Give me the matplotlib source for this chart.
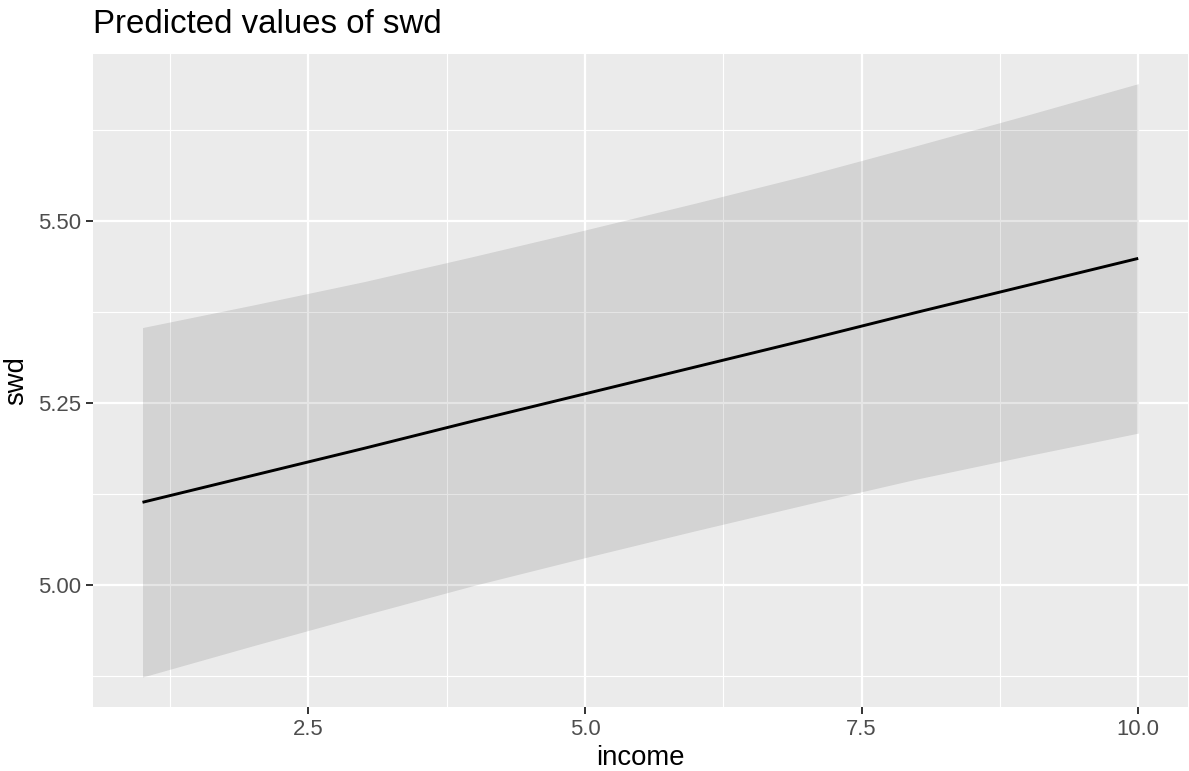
import matplotlib
matplotlib.use("Agg")
import matplotlib.pyplot as plt

# ---- data ----
income = [1, 2, 3, 4, 5, 6, 7, 8, 9, 10]
predicted = [5.114, 5.151, 5.188, 5.226, 5.263, 5.300, 5.337, 5.375, 5.412, 5.449]
conf_low = [4.874, 4.917, 4.959, 5.000, 5.038, 5.075, 5.111, 5.146, 5.178, 5.209]
conf_high = [5.354, 5.385, 5.417, 5.452, 5.488, 5.525, 5.563, 5.604, 5.646, 5.689]

x_major = [2.5, 5.0, 7.5, 10.0]
x_major_labels = ["2.5", "5.0", "7.5", "10.0"]
x_minor = [1.25, 3.75, 6.25, 8.75]
y_major = [5.00, 5.25, 5.50]
y_major_labels = ["5.00", "5.25", "5.50"]
y_minor = [4.875, 5.125, 5.375, 5.625]

title = "Predicted values of swd"
xlabel = "income"
ylabel = "swd"

plt.rcParams['font.family'] = ['Liberation Sans', 'DejaVu Sans']

W, H = 1189, 771
fig = plt.figure(figsize=(W / 100, H / 100), dpi=100)
left, right, top, bottom = 92.7, 1188.0, 54.0, 706.7
ax = fig.add_axes([left / W, 1 - bottom / H, (right - left) / W, (bottom - top) / H])
ax.set_facecolor("#EBEBEB")
for s in ax.spines.values():
    s.set_visible(False)

ax.fill_between(income, conf_low, conf_high, color="black", alpha=0.1, lw=0, zorder=1)
ax.plot(income, predicted, color="black", lw=2.1, zorder=2, solid_capstyle="butt")

# limits with ggplot-like 5% expansion
xmin, xmax = min(income), max(income)
ymin, ymax = min(conf_low), max(conf_high)
xr, yr = xmax - xmin, ymax - ymin
ax.set_xlim(xmin - 0.05 * xr, xmax + 0.05 * xr)
ax.set_ylim(ymin - 0.05 * yr, ymax + 0.05 * yr)

ax.set_xticks(x_major)
ax.set_xticklabels(x_major_labels)
ax.set_xticks(x_minor, minor=True)
ax.set_yticks(y_major)
ax.set_yticklabels(y_major_labels)
ax.set_yticks(y_minor, minor=True)

ax.set_axisbelow(True)
ax.grid(which="major", color="white", lw=1.6)
ax.grid(which="minor", color="white", lw=0.8)

ax.tick_params(which="major", length=5, width=1.4, color="#333333",
               labelsize=15.9, labelcolor="#4D4D4D")
ax.tick_params(axis="x", which="major", pad=3.5)
ax.tick_params(axis="y", which="major", pad=3.5)
ax.tick_params(which="minor", length=0)

ax.set_xlabel(xlabel, fontsize=19.8, color="black", labelpad=4)
ax.set_ylabel(ylabel, fontsize=19.8, color="black", labelpad=6)

fig.text(left / W, 1 - 33 / H, title, fontsize=23.8, color="black",
         ha="left", va="baseline")

fig.savefig("out.png", dpi=100)
